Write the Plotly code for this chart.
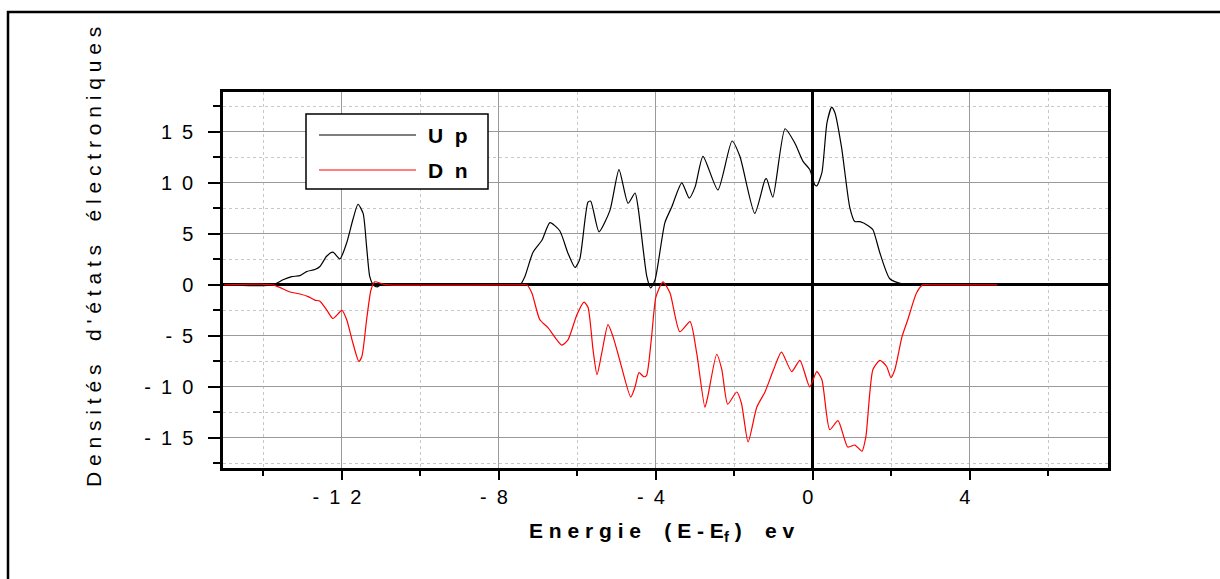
import plotly.graph_objects as go

# Spin-polarised density of states (states/eV) versus E - Ef (eV)
energy_up = [-15.0, -13.76, -13.5, -13.28, -13.07, -12.9, -12.69, -12.56, -12.39, -12.23,
             -12.05, -11.88, -11.72, -11.59, -11.46, -11.37, -11.29, -11.2, -11.1, -11.0,
             -7.6, -7.46, -7.34, -7.13, -6.9, -6.7, -6.45, -6.24, -6.06, -5.94,
             -5.73, -5.66, -5.45, -5.17, -4.94, -4.71, -4.53, -4.45, -4.23, -4.13,
             -4.02, -3.77, -3.6, -3.34, -3.15, -3.0, -2.8, -2.42, -2.06, -1.86,
             -1.48, -1.22, -1.18, -1.02, -0.71, -0.46, -0.25, -0.08, 0.05, 0.1,
             0.23, 0.36, 0.48, 0.56, 0.73, 0.94, 1.07, 1.2, 1.41, 1.53,
             1.71, 1.96, 2.27, 2.6, 4.7]
dos_up = [0, 0, 0.5, 0.8, 0.9, 1.3, 1.5, 1.8, 2.8, 3.2,
          2.55, 4.1, 6.4, 7.9, 7.0, 3.7, 0.8, 0, -0.2, 0,
          0, 0, 0.8, 3.2, 4.4, 6.1, 5.3, 3.1, 1.7, 2.5,
          8.1, 8.2, 5.2, 7.3, 11.3, 8.0, 9.0, 7.5, 0.8, -0.3,
          0.5, 6.1, 7.6, 10.0, 8.5, 9.6, 12.6, 9.3, 14.1, 12.6,
          7.0, 10.3, 10.4, 8.6, 15.3, 13.9, 12.1, 11.3, 9.8, 9.7,
          11.0, 15.9, 17.4, 16.9, 13.5, 7.6, 6.2, 6.2, 5.8, 5.4,
          3.1, 0.6, 0.1, 0, 0]

energy_dn = [-15.0, -13.76, -13.32, -13.07, -12.86, -12.69, -12.56, -12.39, -12.23, -12.0,
             -11.88, -11.72, -11.57, -11.49, -11.37, -11.26, -11.16, -10.98, -10.8, -7.45,
             -7.29, -7.16, -6.96, -6.75, -6.4, -6.24, -6.01, -5.83, -5.73, -5.6,
             -5.5, -5.38, -5.22, -5.09, -4.92, -4.64, -4.53, -4.43, -4.31, -4.24,
             -4.11, -4.0, -3.82, -3.64, -3.39, -3.13, -2.96, -2.75, -2.68, -2.45,
             -2.32, -2.17, -1.94, -1.82, -1.65, -1.43, -1.22, -1.01, -0.8, -0.54,
             -0.33, -0.08, 0.1, 0.23, 0.43, 0.64, 0.89, 1.07, 1.25, 1.35,
             1.53, 1.71, 1.88, 1.99, 2.09, 2.27, 2.42, 2.64, 2.8, 3.0, 4.7]
dos_dn = [0, 0, -0.7, -0.9, -1.15, -1.5, -1.6, -2.45, -3.3, -2.5,
          -3.4, -5.7, -7.5, -7.0, -3.4, -0.5, 0.3, 0.1, 0, 0,
          0, -0.8, -3.4, -4.2, -5.9, -5.4, -2.9, -1.7, -2.2, -6.4,
          -8.8, -6.7, -3.9, -5.1, -7.4, -11.0, -10.0, -8.6, -9.0, -8.9,
          -5.1, -1.2, 0.3, -0.8, -4.6, -3.6, -6.7, -12.0, -11.0, -6.8,
          -8.3, -11.7, -10.5, -11.6, -15.4, -12.0, -10.5, -8.4, -6.6, -8.5,
          -7.4, -10.0, -8.5, -9.3, -14.2, -13.3, -15.9, -15.7, -16.3, -14.9,
          -8.3, -7.4, -8.0, -9.1, -8.3, -5.1, -3.4, -0.8, 0, 0, 0]

x_tick_values = [-12, -8, -4, 0, 4]
x_tick_labels = ["-12", "-8", "-4", "0", "4"]
x_minor_values = [-14, -10, -6, -2, 2, 6]
y_tick_values = [-15, -10, -5, 0, 5, 10, 15]
y_tick_labels = ["-15", "-10", "-5", "0", "5", "10", "15"]
y_minor_values = [-17.5, -12.5, -7.5, -2.5, 2.5, 7.5, 12.5, 17.5]

series_names = ["Up", "Dn"]
series_colors = ["#000000", "#ff0000"]

NB = "\u00a0"
EN = "\u2002"
FONT = "Liberation Sans Narrow, Arial Narrow, Liberation Sans, Arial, sans-serif"


def spread(text, gap=NB):
    """Letter-spaced rendering of a label."""
    return gap.join(ch if ch != " " else NB * 2 for ch in text)


fig = go.Figure()
for xs, ys, name, color in [(energy_up, dos_up, series_names[0], series_colors[0]),
                            (energy_dn, dos_dn, series_names[1], series_colors[1])]:
    fig.add_trace(go.Scatter(x=xs, y=ys, mode="lines", name=name,
                             line=dict(color=color, width=1.2, shape="spline", smoothing=0.6),
                             showlegend=False))

axis_common = dict(
    showline=True, linecolor="black", linewidth=2.5, mirror=True,
    ticks="outside", tickcolor="black", tickwidth=2,
    showgrid=True, gridcolor="#9a9a9a", gridwidth=1.3,
    zeroline=True, zerolinecolor="black", zerolinewidth=3,
    tickfont=dict(family=FONT, size=20, color="black"),
    tickmode="array",
)

fig.update_xaxes(
    **axis_common,
    range=[-15.03, 7.52],
    tickvals=x_tick_values,
    ticktext=[spread(t, EN) + EN for t in x_tick_labels],
    ticklen=9,
    ticklabelstandoff=0,
    minor=dict(tickmode="array", tickvals=x_minor_values, ticks="outside", ticklen=5,
               tickcolor="black", tickwidth=2, showgrid=True, gridcolor="#c8c8c8",
               griddash="dot", gridwidth=1),
)
fig.update_yaxes(
    **axis_common,
    range=[-17.95, 18.9],
    tickvals=y_tick_values,
    ticktext=[spread(t, EN) for t in y_tick_labels],
    ticklen=12,
    ticklabelstandoff=11,
    minor=dict(tickmode="array", tickvals=y_minor_values, ticks="outside", ticklen=7,
               tickcolor="black", tickwidth=2, showgrid=True, gridcolor="#c8c8c8",
               griddash="dot", gridwidth=1),
)

# axis titles
fig.add_annotation(xref="paper", yref="paper", x=(661 - 223) / 885, y=(468 - 532) / 376,
                   text=spread("Energie (E-E") + "<sub>f</sub>" + NB + spread(") ev"),
                   showarrow=False, xanchor="center", yanchor="middle",
                   font=dict(family=FONT, size=21, color="black", weight="bold"))
fig.add_annotation(xref="paper", yref="paper", x=(93 - 223) / 885, y=(468 - 257) / 376,
                   text=spread("Densités d'états électroniques"), textangle=-90,
                   showarrow=False, xanchor="center", yanchor="middle",
                   font=dict(family=FONT, size=21, color="black"))

# legend box
fig.add_shape(type="rect", xref="paper", yref="paper",
              x0=(306 - 223) / 885, x1=(488 - 223) / 885,
              y0=(468 - 189) / 376, y1=(468 - 114) / 376,
              line=dict(color="black", width=1.5), fillcolor="white", layer="above")
for i, (name, color) in enumerate(zip(series_names, series_colors)):
    ypix = [135, 170][i]
    yp = (468 - ypix) / 376
    fig.add_shape(type="line", xref="paper", yref="paper",
                  x0=(319 - 223) / 885, x1=(416 - 223) / 885, y0=yp, y1=yp,
                  line=dict(color=color, width=1.2), layer="above")
    fig.add_annotation(xref="paper", yref="paper", x=(426 - 223) / 885, y=yp,
                       text=spread(name, NB * 2), showarrow=False,
                       xanchor="left", yanchor="middle",
                       font=dict(family=FONT, size=21, color="black", weight="bold"))

# page frame
fig.add_shape(type="rect", xref="paper", yref="paper",
              x0=(8 - 223) / 885, x1=(1240 - 223) / 885,
              y0=(468 - 600) / 376, y1=(468 - 12) / 376,
              line=dict(color="black", width=2.5), fillcolor="rgba(0,0,0,0)", layer="below")

fig.update_layout(
    width=1220, height=579,
    margin=dict(l=223, r=112, t=92, b=111),
    paper_bgcolor="white", plot_bgcolor="white",
    showlegend=False,
)

fig.write_html("out.html")
